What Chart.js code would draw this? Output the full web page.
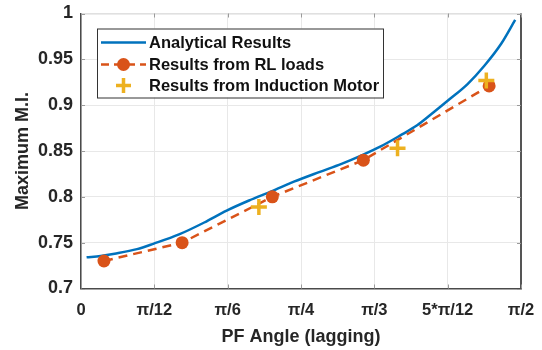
<!DOCTYPE html>
<html>
<head>
<meta charset="utf-8">
<script src="https://cdn.jsdelivr.net/npm/chart.js@4.4.1/dist/chart.umd.min.js"></script>
<style>
html,body{margin:0;padding:0;background:#fff;}
#wrap{width:542px;height:350px;position:relative;}
</style>
</head>
<body>
<div id="wrap"><canvas id="c" width="542" height="350"></canvas></div>
<script>
// ---- data ----
const PI = Math.PI;
const xTickValues = [0, PI/12, PI/6, PI/4, PI/3, 5*PI/12, PI/2];
const xTickLabels = ['0', 'π/12', 'π/6', 'π/4', 'π/3', '5*π/12', 'π/2'];
const yTickValues = [0.7, 0.75, 0.8, 0.85, 0.9, 0.95, 1];
const yTickLabels = ['0.7', '0.75', '0.8', '0.85', '0.9', '0.95', '1'];

const seriesNames = ['Analytical Results', 'Results from RL loads', 'Results from Induction Motor'];

const analyticX = [0.02, 0.07, 0.12, 0.20, 0.26, 0.35, 0.44, 0.52, 0.60, 0.68, 0.76, 0.85, 0.93, 1.00, 1.07, 1.14, 1.20, 1.25, 1.31, 1.38, 1.44, 1.50, 1.55];
const analyticY = [0.734, 0.7355, 0.738, 0.743, 0.749, 0.759, 0.772, 0.785, 0.796, 0.806, 0.8165, 0.827, 0.836, 0.845, 0.855, 0.867, 0.878, 0.890, 0.905, 0.923, 0.943, 0.967, 0.993];

const rlX = [0.082, 0.361, 0.683, 1.008, 1.457];
const rlY = [0.730, 0.750, 0.800, 0.840, 0.921];

const imX = [0.635, 1.130, 1.447];
const imY = [0.789, 0.853, 0.927];

// ---- styling ----
const BLUE = '#0072BD', RED = '#D95319', YEL = '#EDB120';
const FONT = '"Liberation Sans", Arial, sans-serif';

function pts(xs, ys){ return xs.map((x,i)=>({x:x, y:ys[i]})); }

const frameAndLegend = {
  id: 'frameAndLegend',
  afterDatasetsDraw(chart){
    const ctx = chart.ctx, ca = chart.chartArea;
    const xs = chart.scales.x, ys = chart.scales.y;
    ctx.save();
    ctx.lineWidth = 1;
    ctx.strokeStyle = '#d9d9d9';
    ctx.beginPath(); ctx.moveTo(ca.left, ca.top+0.5); ctx.lineTo(ca.right, ca.top+0.5); ctx.stroke();
    ctx.lineWidth = 2;
    ctx.strokeStyle = '#555555';
    ctx.beginPath(); ctx.moveTo(ca.right, ca.top); ctx.lineTo(ca.right, ca.bottom); ctx.stroke();
    ctx.lineWidth = 1;
    ctx.strokeStyle = '#9a9a9a';
    xTickValues.forEach(v=>{
      const p = Math.round(xs.getPixelForValue(v))+0.5;
      ctx.beginPath(); ctx.moveTo(p, ca.top); ctx.lineTo(p, ca.top+4); ctx.stroke();
      ctx.beginPath(); ctx.moveTo(p, ca.bottom); ctx.lineTo(p, ca.bottom-4); ctx.stroke();
    });
    yTickValues.forEach(v=>{
      const p = Math.round(ys.getPixelForValue(v))+0.5;
      ctx.beginPath(); ctx.moveTo(ca.left, p); ctx.lineTo(ca.left+4, p); ctx.stroke();
      ctx.beginPath(); ctx.moveTo(ca.right, p); ctx.lineTo(ca.right-4, p); ctx.stroke();
    });

    // legend
    const lx = ca.left + 16, ly = ca.top + 15, lw = 286, lh = 69;
    ctx.fillStyle = '#ffffff';
    ctx.fillRect(lx, ly, lw, lh);
    ctx.lineWidth = 1;
    ctx.strokeStyle = '#333333';
    ctx.strokeRect(lx+0.5, ly+0.5, lw, lh);
    const rows = [ly+14, ly+36, ly+57];
    const x0 = lx+4, x1 = lx+49, xm = (x0+x1)/2;
    ctx.strokeStyle = BLUE; ctx.lineWidth = 2.5;
    ctx.beginPath(); ctx.moveTo(x0, rows[0]); ctx.lineTo(x1, rows[0]); ctx.stroke();
    ctx.strokeStyle = RED; ctx.setLineDash([8,5]);
    ctx.beginPath(); ctx.moveTo(x0, rows[1]); ctx.lineTo(x1, rows[1]); ctx.stroke();
    ctx.setLineDash([]);
    ctx.fillStyle = RED;
    ctx.beginPath(); ctx.arc(xm, rows[1], 6.5, 0, 2*PI); ctx.fill();
    ctx.strokeStyle = YEL; ctx.lineWidth = 3.5;
    ctx.beginPath(); ctx.moveTo(xm-7.5, rows[2]); ctx.lineTo(xm+7.5, rows[2]);
    ctx.moveTo(xm, rows[2]-7.5); ctx.lineTo(xm, rows[2]+7.5); ctx.stroke();
    ctx.fillStyle = '#111111';
    ctx.font = 'bold 16.5px ' + FONT;
    ctx.textBaseline = 'middle';
    ctx.textAlign = 'left';
    seriesNames.forEach((n,i)=> ctx.fillText(n, lx+52, rows[i]+1));
    ctx.restore();
  }
};

new Chart(document.getElementById('c'), {
  type: 'scatter',
  data: {
    datasets: [
      {
        label: seriesNames[0], data: pts(analyticX, analyticY), showLine: true,
        borderColor: BLUE, backgroundColor: BLUE, borderWidth: 2.5,
        pointRadius: 0, cubicInterpolationMode: 'monotone', order: 2
      },
      {
        label: seriesNames[1], data: pts(rlX, rlY), showLine: true,
        borderColor: RED, backgroundColor: RED, borderWidth: 2.5, borderDash: [9,6],
        pointRadius: 6.5, pointBorderWidth: 0, pointBackgroundColor: RED, pointStyle: 'circle',
        tension: 0, order: 1
      },
      {
        label: seriesNames[2], data: pts(imX, imY), showLine: false,
        borderColor: YEL, backgroundColor: YEL, pointStyle: 'cross',
        pointRadius: 8, pointBorderWidth: 3.5, pointBorderColor: YEL, order: 0
      }
    ]
  },
  options: {
    responsive: false, animation: false, devicePixelRatio: 1,
    layout: { padding: { left: 12, right: 21, top: 13.5, bottom: 0 } },
    plugins: { legend: { display: false }, tooltip: { enabled: false } },
    scales: {
      x: {
        type: 'linear', min: 0, max: PI/2,
        afterBuildTicks: (s)=>{ s.ticks = xTickValues.map(v=>({value:v})); },
        afterFit: (s)=>{ s.height = 61.5; s.paddingLeft = 0; s.paddingRight = 0; },
        ticks: {
          autoSkip: false, maxRotation: 0, padding: 12, color: '#262626',
          font: { family: FONT, size: 16.5, weight: 'bold' },
          callback: (v, i)=> xTickLabels[i]
        },
        grid: { color: '#e8e8e8', lineWidth: 1, drawTicks: false },
        border: { display: true, color: '#4a4a4a', width: 1.5 },
        title: { display: true, text: 'PF Angle (lagging)', color: '#262626',
                 font: { family: FONT, size: 18, weight: 'bold' }, padding: { top: 0, bottom: 2 } }
      },
      y: {
        type: 'linear', min: 0.7, max: 1,
        afterBuildTicks: (s)=>{ s.ticks = yTickValues.map(v=>({value:v})); },
        afterFit: (s)=>{ s.width = 69; s.paddingTop = 0; s.paddingBottom = 0; },
        ticks: {
          padding: 8, color: '#262626',
          font: { family: FONT, size: 18, weight: 'bold' },
          callback: (v, i)=> yTickLabels[i]
        },
        grid: { color: '#e8e8e8', lineWidth: 1, drawTicks: false },
        border: { display: true, color: '#4a4a4a', width: 1.5 },
        title: { display: true, text: 'Maximum M.I.', color: '#262626',
                 font: { family: FONT, size: 18, weight: 'bold' }, padding: { top: 0, bottom: 0 } }
      }
    }
  },
  plugins: [frameAndLegend]
});
</script>
</body>
</html>
